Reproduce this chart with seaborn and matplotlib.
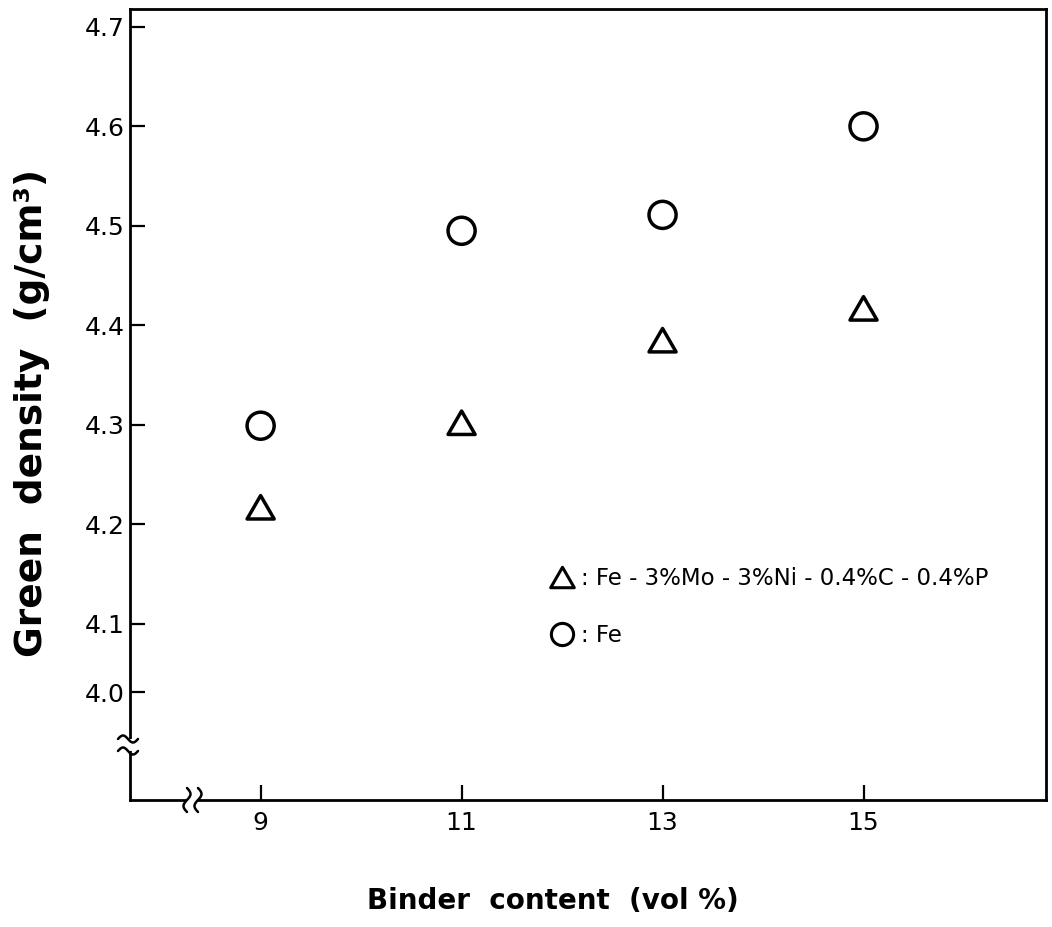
import numpy as np
import pandas as pd
import matplotlib
matplotlib.use("Agg")
import matplotlib.pyplot as plt
import seaborn as sns
from matplotlib.lines import Line2D
from matplotlib.patches import Rectangle
from matplotlib.path import Path

# ---------------- data ----------------
binder_content = [9, 11, 13, 15]
density_fe = [4.299, 4.495, 4.511, 4.600]
density_alloy = [4.217, 4.302, 4.385, 4.417]
series_labels = ["Fe", "Fe - 3%Mo - 3%Ni - 0.4%C - 0.4%P"]
x_ticks = [9, 11, 13, 15]
y_ticks = [4.0, 4.1, 4.2, 4.3, 4.4, 4.5, 4.6, 4.7]
x_label = "Binder  content  (vol %)"
y_label = "Green  density  (g/cm³)"

df = pd.DataFrame({
    "binder": binder_content + binder_content,
    "density": density_fe + density_alloy,
    "material": [series_labels[0]] * len(density_fe) + [series_labels[1]] * len(density_alloy),
})

# ---------------- style ----------------
sns.set_style("white")
plt.rcParams["font.family"] = ["DejaVu Sans"]
plt.rcParams["text.color"] = "black"
plt.rcParams["axes.labelcolor"] = "black"
plt.rcParams["axes.edgecolor"] = "black"
plt.rcParams["axes.linewidth"] = 2.0

W, H = 1052, 927
fig = plt.figure(figsize=(W / 100, H / 100), dpi=100, facecolor="white")
L, R, T, B = 130, 1046, 9, 800
ax = fig.add_axes([L / W, 1 - B / H, (R - L) / W, (B - T) / H])


def axx(px):
    return (px - L) / (R - L)


def axy(py):
    return (B - py) / (B - T)


tri = Path([(0.0, 0.433), (-0.5, -0.433), (0.5, -0.433), (0.0, 0.433)], closed=True)

sns.scatterplot(
    data=df, x="binder", y="density", style="material",
    markers={series_labels[0]: "o", series_labels[1]: tri},
    s=380, facecolor="none", edgecolor="black", linewidth=2.5,
    legend=False, ax=ax, zorder=5,
)


# broken y axis: compress the part below 4.1
def fwd(y):
    y = np.asarray(y, dtype=float)
    return np.where(y >= 4.1, y, 4.1 - (4.1 - y) * 0.69)


def inv(t):
    t = np.asarray(t, dtype=float)
    return np.where(t >= 4.1, t, 4.1 - (4.1 - t) / 0.69)


ax.set_yscale("function", functions=(fwd, inv))
ax.set_ylim(3.843, 4.718)
ax.set_xlim(7.70, 16.816)

ax.set_xticks(x_ticks)
ax.set_xticklabels([str(v) for v in x_ticks])
ax.set_yticks(y_ticks)
ax.set_yticklabels([f"{v:.1f}" for v in y_ticks])
ax.minorticks_off()
ax.tick_params(axis="both", which="major", direction="in", length=11, width=1.6,
               labelsize=18, color="black", labelcolor="black", pad=4,
               bottom=True, left=True, top=False, right=False)
ax.tick_params(axis="x", pad=8)
for sp in ax.spines.values():
    sp.set_visible(True)
    sp.set_linewidth(2.0)
    sp.set_color("black")

ax.set_xlabel(x_label, fontsize=20, fontweight="bold", color="black")
ax.set_ylabel(y_label, fontsize=27, fontweight="bold", color="black")
ax.xaxis.set_label_coords(axx(553), axy(887))
ax.yaxis.set_label_coords(axx(50), axy(413))

# ---------------- axis break symbols ----------------
# y-axis break
ax.add_patch(Rectangle((axx(L - 6), axy(751)), axx(L + 6) - axx(L - 6), axy(739) - axy(751),
                       transform=ax.transAxes, facecolor="white", edgecolor="none",
                       zorder=3, clip_on=False))
for yc in (739, 751):
    xs = np.linspace(L - 12, L + 8, 40)
    ys = yc - 3.5 * np.sin(2 * np.pi * (xs - (L - 12)) / 20)
    ax.plot(axx(xs), axy(ys), transform=ax.transAxes, color="black", lw=1.8,
            clip_on=False, zorder=4)
# x-axis break
ax.add_patch(Rectangle((axx(187), axy(B + 6)), axx(198) - axx(187), axy(B - 6) - axy(B + 6),
                       transform=ax.transAxes, facecolor="white", edgecolor="none",
                       zorder=3, clip_on=False))
for xc in (187, 198):
    ys = np.linspace(B - 12, B + 12, 40)
    xs = xc + 3.5 * np.sin(2 * np.pi * (ys - (B - 12)) / 24)
    ax.plot(axx(xs), axy(ys), transform=ax.transAxes, color="black", lw=1.8,
            clip_on=False, zorder=4)

# ---------------- legend ----------------
h_tri = Line2D([], [], linestyle="none", marker=tri, markersize=17,
               markerfacecolor="none", markeredgecolor="black", markeredgewidth=2.2)
h_cir = Line2D([], [], linestyle="none", marker="o", markersize=16,
               markerfacecolor="none", markeredgecolor="black", markeredgewidth=2.2)
leg = ax.legend([h_tri, h_cir], [": " + series_labels[1], ": " + series_labels[0]],
                loc="upper left", bbox_to_anchor=(axx(549), axy(567)),
                frameon=False, fontsize=16.5, handlelength=1.1, handletextpad=0.3,
                labelspacing=1.5, borderpad=0, borderaxespad=0)
for t in leg.get_texts():
    t.set_color("black")

fig.savefig("out.png", dpi=100, facecolor="white")
